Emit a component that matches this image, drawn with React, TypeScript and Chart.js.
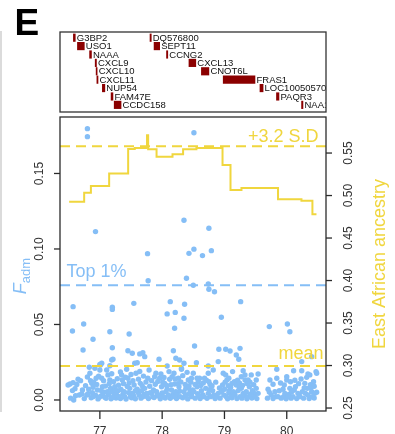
import React, { useEffect, useRef } from "react";
import { Chart, registerables } from "chart.js";

Chart.register(...registerables);

// ---- axis ranges and ticks ----
const X_MIN = 76.36;
const X_MAX = 80.63;
const FADM_MIN = -0.0073;
const FADM_MAX = 0.1874;
const ANC_MIN = 0.2465;
const ANC_MAX = 0.5924;

const xTicks = [77, 78, 79, 80];
const fadmTicks = [0, 0.05, 0.1, 0.15];
const ancestryTicks = [0.25, 0.3, 0.35, 0.4, 0.45, 0.5, 0.55];

// ---- gene track (position in Mb, row from the top) ----
const geneNames = [
  "G3BP2", "USO1", "NAAA", "CXCL9", "CXCL10", "CXCL11", "NUP54", "FAM47E", "CCDC158",
  "DQ576800", "SEPT11", "CCNG2", "CXCL13", "CNOT6L", "FRAS1", "LOC100505702", "PAQR3", "NAA11",
];
const geneStarts = [
  76.575, 76.64, 76.835, 76.925, 76.94, 76.952, 77.04, 77.18, 77.23,
  77.805, 77.87, 78.07, 78.43, 78.63, 78.98, 79.57, 79.835, 80.238,
];
const geneEnds = [
  76.605, 76.75, 76.865, 76.945, 76.956, 76.97, 77.08, 77.21, 77.34,
  77.825, 77.96, 78.09, 78.54, 78.75, 79.49, 79.62, 79.875, 80.26,
];
const geneRows = [1, 2, 3, 4, 5, 6, 7, 8, 9, 1, 2, 3, 4, 5, 6, 7, 8, 9];

// ---- Fadm per SNP: [position Mb, Fadm] ----
const fadmHigh: [number, number][] = [
  [76.8, 0.1797], [76.8, 0.1744], [78.51, 0.177],
  [76.93, 0.1115], [78.35, 0.119], [78.75, 0.1137],
  [77.765, 0.0969], [78.43, 0.0971], [78.51, 0.0999], [78.647, 0.0956], [78.79, 0.0989],
  [77.775, 0.079], [78.39, 0.0806], [78.5, 0.076], [78.74, 0.0768], [78.75, 0.0733], [78.84, 0.0717],
];
const fadmMid: [number, number][] = [
  [76.57, 0.0618], [77.2, 0.0614], [77.2, 0.06], [77.545, 0.064], [78.13, 0.0651], [78.08, 0.057],
  [78.21, 0.058], [78.36, 0.0634], [78.35, 0.0541], [78.2, 0.0475], [79.26, 0.0651], [78.95, 0.0548],
  [76.56, 0.0457], [76.74, 0.0503], [77.16, 0.0452], [77.47, 0.0437], [76.89, 0.0402],
  [79.72, 0.0486], [80.01, 0.0503], [80.05, 0.0452],
  [77.2, 0.0346], [76.73, 0.0331], [77.45, 0.0326], [77.52, 0.0309], [77.64, 0.0305], [77.69, 0.0313],
  [77.72, 0.0287], [78.18, 0.0326], [78.22, 0.0276], [77.95, 0.027], [77.19, 0.0265], [77.21, 0.027],
  [78.52, 0.0357], [78.91, 0.0336], [79.02, 0.0336], [79.09, 0.0324], [79.25, 0.0342], [79.19, 0.0298],
  [79.23, 0.027], [78.9, 0.0254], [78.55, 0.0247], [80.24, 0.0254], [80.4, 0.0287],
  [77.03, 0.0243], [77.56, 0.0243], [78.35, 0.0243], [78.08, 0.0225], [77.0, 0.0236], [77.16, 0.0227],
  [77.6, 0.0247], [78.28, 0.0265], [78.31, 0.021], [78.74, 0.0225],
  [79.84, 0.0203], [80.11, 0.0194], [80.24, 0.0194], [80.47, 0.0188], [80.34, 0.0172], [79.54, 0.0172],
  [79.3, 0.0194], [79.33, 0.0166], [79.02, 0.0166], [78.6, 0.0144], [78.56, 0.0144], [78.75, 0.0121],
];
const fadmBandWest: [number, number][] = [
  [76.49, 0.0099], [76.52, 0.0106], [76.57, 0.0115], [76.56, 0.0062], [76.58, 0.0], [76.65, 0.0137],
  [76.67, 0.0033], [76.71, 0.004], [76.79, 0.0033], [76.83, 0.0217], [76.84, 0.0177], [76.85, 0.0128],
  [76.87, 0.011], [76.89, 0.0084], [76.88, 0.0048], [76.89, 0.0022], [76.92, 0.021], [76.94, 0.0144],
  [76.96, 0.0066], [76.99, 0.0018], [77.0, 0.0199], [77.01, 0.0232], [77.03, 0.0144], [77.04, 0.0088],
  [77.05, 0.0044], [77.08, 0.0018], [77.11, 0.0199], [77.13, 0.0166], [77.16, 0.0132], [77.17, 0.0077],
  [77.2, 0.0055], [77.21, 0.0018], [77.24, 0.0088], [77.27, 0.0033], [77.31, 0.0022], [77.35, 0.0166],
  [77.36, 0.0132], [77.39, 0.0055], [77.4, 0.0022], [77.43, 0.0203], [77.45, 0.0144], [77.48, 0.0077],
  [77.49, 0.0022], [77.52, 0.0044], [77.55, 0.0099], [77.58, 0.0177], [77.6, 0.0071], [77.63, 0.0033],
  [77.65, 0.011], [77.67, 0.0062], [77.69, 0.0022], [77.72, 0.0077], [77.75, 0.0044], [77.76, 0.0022],
  [77.77, 0.0144], [77.79, 0.0199], [77.81, 0.0048], [77.85, 0.0022], [77.88, 0.0154], [77.9, 0.0177],
  [77.91, 0.0055], [77.94, 0.0033], [77.96, 0.0144], [77.99, 0.0088], [78.02, 0.0022], [78.04, 0.011],
  [78.06, 0.0055], [78.1, 0.0033], [78.12, 0.0137], [78.15, 0.0066], [78.17, 0.0022], [78.19, 0.0177],
  [78.2, 0.0106], [78.22, 0.0055], [78.24, 0.0033], [78.26, 0.0144], [78.27, 0.0088], [78.29, 0.0022],
  [78.31, 0.0203], [78.35, 0.0055], [78.38, 0.0077], [78.39, 0.0033], [78.42, 0.0132], [78.44, 0.0044],
  [78.47, 0.0022], [78.5, 0.0177], [78.47, 0.0144],
  [76.6, 0.0075], [76.63, 0.0102], [76.69, 0.0128], [76.72, 0.0066], [76.77, 0.0095], [76.8, 0.0152],
  [76.82, 0.0071], [76.9, 0.0118], [76.95, 0.0102], [76.98, 0.0158], [77.02, 0.0063], [77.06, 0.0127],
  [77.09, 0.0092], [77.12, 0.0054], [77.15, 0.0108], [77.19, 0.0174], [77.22, 0.0121], [77.25, 0.0062],
  [77.28, 0.0141], [77.3, 0.0098], [77.33, 0.0186], [77.34, 0.0069], [77.38, 0.0108], [77.41, 0.0151],
  [77.44, 0.0089], [77.47, 0.0112], [77.5, 0.0169], [77.53, 0.0128], [77.57, 0.0062], [77.62, 0.0138],
  [77.64, 0.0189], [77.68, 0.0094], [77.7, 0.0158], [77.74, 0.0119], [77.8, 0.0091], [77.83, 0.0128],
  [77.86, 0.0067], [77.89, 0.0104], [77.93, 0.0122], [77.98, 0.0172], [78.01, 0.0118], [78.03, 0.0149],
  [78.07, 0.0096], [78.11, 0.0188], [78.14, 0.0101], [78.16, 0.0154], [78.21, 0.0139], [78.25, 0.0108],
  [78.3, 0.0119], [78.33, 0.0161], [78.37, 0.0102], [78.4, 0.0183], [78.43, 0.0091], [78.46, 0.0118],
  [78.49, 0.0066],
];
const fadmBandEast: [number, number][] = [
  [78.47, 0.0033], [78.51, 0.0055], [78.56, 0.0088], [78.59, 0.0026], [78.63, 0.0062], [78.67, 0.0022],
  [78.7, 0.0077], [78.74, 0.0044], [78.78, 0.0022], [78.81, 0.0062], [78.83, 0.0033], [78.87, 0.0022],
  [78.95, 0.0055], [78.97, 0.0099], [78.99, 0.0033], [79.0, 0.0071], [79.03, 0.0022], [79.04, 0.0132],
  [79.07, 0.0048], [79.1, 0.0084], [79.11, 0.0026], [79.14, 0.0055], [79.17, 0.0033], [79.19, 0.0099],
  [79.22, 0.0062], [79.25, 0.0022], [79.27, 0.0077], [79.3, 0.0044], [79.33, 0.0132], [79.35, 0.0055],
  [79.38, 0.0022], [79.4, 0.0088], [79.42, 0.004], [79.45, 0.0062], [79.49, 0.0022], [79.51, 0.0077],
  [79.54, 0.0044], [79.7, 0.0071], [79.73, 0.0132], [79.75, 0.0033], [79.81, 0.0055], [79.82, 0.0022],
  [79.84, 0.0144], [79.86, 0.0022], [79.94, 0.0071], [79.97, 0.0044], [80.0, 0.0132], [80.0, 0.0154],
  [80.02, 0.0022], [80.05, 0.0077], [80.08, 0.0055], [80.1, 0.0022], [80.14, 0.0088], [80.18, 0.0044],
  [80.21, 0.0022], [80.25, 0.0055], [80.29, 0.011], [80.32, 0.015], [80.33, 0.0077], [80.34, 0.0033],
  [80.37, 0.0166], [80.4, 0.0055], [80.41, 0.0022], [80.43, 0.0121], [80.45, 0.0044], [80.48, 0.0177],
  [78.74, 0.0177], [78.82, 0.0199], [78.68, 0.0144], [78.98, 0.0177], [79.07, 0.0144], [79.13, 0.0188],
  [79.27, 0.0154], [79.38, 0.0132], [79.43, 0.0166], [79.51, 0.0132],
  [78.53, 0.0103], [78.58, 0.0121], [78.62, 0.0096], [78.66, 0.0112], [78.71, 0.0131], [78.77, 0.0102],
  [78.8, 0.0093], [78.86, 0.0118], [78.92, 0.0079], [79.01, 0.0118], [79.06, 0.0094], [79.12, 0.0109],
  [79.16, 0.0121], [79.21, 0.0131], [79.24, 0.0112], [79.29, 0.0096], [79.36, 0.0109], [79.41, 0.0118],
  [79.47, 0.0101], [79.78, 0.0104], [79.9, 0.0112], [79.96, 0.0099], [80.06, 0.0121], [80.13, 0.0131],
  [80.19, 0.0108], [80.23, 0.0139], [80.28, 0.0079], [80.38, 0.0101], [80.44, 0.0091],
];
const fadmBaseline: [number, number][] = [
  [76.53, 0.0012], [76.61, 0.0028], [76.75, 0.0009], [76.81, 0.0041], [76.86, 0.0015], [76.93, 0.0031],
  [76.97, 0.0007], [77.02, 0.0026], [77.07, 0.0052], [77.1, 0.0011], [77.14, 0.0035], [77.18, 0.0008],
  [77.23, 0.0042], [77.26, 0.0013], [77.29, 0.0061], [77.33, 0.0009], [77.37, 0.0038], [77.42, 0.0006],
  [77.46, 0.0049], [77.51, 0.0014], [77.54, 0.0029], [77.57, 0.0008], [77.61, 0.0051], [77.66, 0.0012],
  [77.71, 0.0036], [77.78, 0.0009], [77.83, 0.0044], [77.87, 0.0016], [77.92, 0.0027], [77.97, 0.0008],
  [78.0, 0.0047], [78.05, 0.0013], [78.08, 0.0071], [78.13, 0.0011], [78.18, 0.0039], [78.23, 0.0009],
  [78.28, 0.0058], [78.33, 0.0014], [78.37, 0.0028], [78.41, 0.0007], [78.45, 0.0063], [78.53, 0.0012],
  [78.57, 0.0041], [78.61, 0.0009], [78.65, 0.0035], [78.72, 0.0011], [78.76, 0.0068], [78.85, 0.0009],
  [78.9, 0.0044], [78.93, 0.0012], [79.05, 0.0008], [79.08, 0.0063], [79.12, 0.0014], [79.16, 0.0047],
  [79.2, 0.0009], [79.24, 0.0084], [79.28, 0.0012], [79.32, 0.0031], [79.36, 0.0008], [79.44, 0.0013],
  [79.47, 0.0047], [79.52, 0.0009], [79.69, 0.0012], [79.72, 0.0052], [79.78, 0.0009], [79.88, 0.0061],
  [79.91, 0.0012], [79.95, 0.0021], [79.99, 0.0008], [80.04, 0.0039], [80.07, 0.0012], [80.12, 0.0066],
  [80.16, 0.0009], [80.2, 0.0031], [80.27, 0.0012], [80.3, 0.0044], [80.36, 0.0009], [80.39, 0.0081],
  [80.44, 0.0013], [80.48, 0.0051],
];

// ---- East African ancestry in sliding windows (step starts, Mb) ----
const ancestryPositions = [
  76.507, 76.748, 76.856, 77.149, 77.454, 77.56, 77.74, 77.757, 77.775, 77.91,
  78.166, 78.336, 78.55, 78.969, 79.097, 79.273, 79.86, 80.236, 80.412, 80.477,
];
const ancestryValues = [
  0.4927, 0.5033, 0.5112, 0.526, 0.5547, 0.556, 0.5565, 0.571, 0.5545, 0.5457,
  0.5485, 0.5545, 0.556, 0.536, 0.5065, 0.509, 0.4955, 0.494, 0.478, 0.478,
];

// ---- reference lines ----
const ancestrySdThreshold = 0.558; // +3.2 S.D
const fadmTop1 = 0.076; // top 1% of Fadm
const ancestryMean = 0.2995;

const BLUE = "rgb(133,190,246)";
const YELLOW = "rgb(240,214,62)";
const GENE_RED = "#8b0000";
const FONT = '"Liberation Sans", Arial, Helvetica, sans-serif';

const W = 395;
const H = 434;
const PLOT_LEFT = 60;
const PLOT_RIGHT = 326;

const genePlugin = {
  id: "geneTrack",
  afterDatasetsDraw(chart: any) {
    const { ctx, chartArea: ca, scales } = chart;
    const xs = scales.x;
    const ys = scales.y;
    ctx.save();
    // panel letter
    ctx.fillStyle = "#000";
    ctx.font = `bold 37px ${FONT}`;
    ctx.textAlign = "left";
    ctx.textBaseline = "alphabetic";
    ctx.fillText("E", 14.5, 35);
    // gene labels, clipped to the track
    ctx.beginPath();
    ctx.rect(ca.left, ca.top, ca.right - ca.left, ca.bottom - ca.top);
    ctx.clip();
    ctx.fillStyle = "#111";
    ctx.font = `9.5px ${FONT}`;
    ctx.textBaseline = "middle";
    geneNames.forEach((name, i) => {
      const px = xs.getPixelForValue(geneEnds[i]) + 1.5;
      const py = ys.getPixelForValue(geneRows[i]) + 0.5;
      ctx.fillText(name, px, py);
    });
    ctx.restore();
    ctx.save();
    ctx.strokeStyle = "#333";
    ctx.lineWidth = 1.3;
    ctx.strokeRect(ca.left, ca.top, ca.right - ca.left, ca.bottom - ca.top);
    ctx.restore();
  },
};

const framePlugin = {
  id: "plotFrame",
  afterDraw(chart: any) {
    const { ctx, chartArea: ca, scales } = chart;
    const xs = scales.x;
    const yl = scales.y;
    const yr = scales.y2;
    ctx.save();

    // edge of the neighbouring panel
    ctx.strokeStyle = "#cfcfcf";
    ctx.lineWidth = 1.5;
    ctx.beginPath();
    ctx.moveTo(1, 31);
    ctx.lineTo(1, 412);
    ctx.stroke();

    // plot box
    ctx.strokeStyle = "#2b2b2b";
    ctx.lineWidth = 1.3;
    ctx.strokeRect(ca.left, ca.top, ca.right - ca.left, ca.bottom - ca.top);

    ctx.fillStyle = "#333";
    ctx.font = `12px ${FONT}`;

    // bottom axis
    ctx.textAlign = "center";
    ctx.textBaseline = "alphabetic";
    xTicks.forEach((v) => {
      const px = xs.getPixelForValue(v);
      ctx.beginPath();
      ctx.moveTo(px, ca.bottom);
      ctx.lineTo(px, ca.bottom + 8);
      ctx.stroke();
      ctx.fillText(String(v), px, 434.5);
    });

    // left axis (Fadm)
    fadmTicks.forEach((v) => {
      const py = yl.getPixelForValue(v);
      ctx.beginPath();
      ctx.moveTo(ca.left, py);
      ctx.lineTo(ca.left - 6, py);
      ctx.stroke();
      ctx.save();
      ctx.translate(43, py);
      ctx.rotate(-Math.PI / 2);
      ctx.fillText(v.toFixed(2), 0, 0);
      ctx.restore();
    });

    // right axis (ancestry)
    ancestryTicks.forEach((v) => {
      const py = yr.getPixelForValue(v);
      ctx.beginPath();
      ctx.moveTo(ca.right, py);
      ctx.lineTo(ca.right + 6, py);
      ctx.stroke();
      ctx.save();
      ctx.translate(352, py);
      ctx.rotate(-Math.PI / 2);
      ctx.fillText(v.toFixed(2), 0, 0);
      ctx.restore();
    });

    // right axis title
    ctx.save();
    ctx.fillStyle = YELLOW;
    ctx.font = `18px ${FONT}`;
    ctx.translate(384.5, (ca.top + ca.bottom) / 2);
    ctx.rotate(-Math.PI / 2);
    ctx.fillText("East African ancestry", 0, 0);
    ctx.restore();

    // left axis title: F with subscript adm
    ctx.save();
    ctx.fillStyle = BLUE;
    ctx.translate(26, 276);
    ctx.rotate(-Math.PI / 2);
    ctx.textAlign = "left";
    ctx.font = `italic 18px ${FONT}`;
    const wF = ctx.measureText("F").width;
    ctx.font = `13px ${FONT}`;
    const wSub = ctx.measureText("adm").width;
    const start = -(wF + wSub) / 2;
    ctx.font = `italic 18px ${FONT}`;
    ctx.fillText("F", start, 0);
    ctx.font = `13px ${FONT}`;
    ctx.fillText("adm", start + wF, 4);
    ctx.restore();

    // reference line labels
    ctx.font = `18px ${FONT}`;
    ctx.textBaseline = "alphabetic";
    ctx.fillStyle = YELLOW;
    ctx.textAlign = "right";
    ctx.fillText("+3.2 S.D", 318.5, 142);
    ctx.fillText("mean", 323.5, 358.5);
    ctx.fillStyle = BLUE;
    ctx.textAlign = "left";
    ctx.fillText("Top 1%", 66.5, 277);

    ctx.restore();
  },
};

function hLine(value: number) {
  return [
    { x: X_MIN, y: value },
    { x: X_MAX, y: value },
  ];
}

export default function App() {
  const geneRef = useRef<HTMLCanvasElement | null>(null);
  const mainRef = useRef<HTMLCanvasElement | null>(null);

  useEffect(() => {
    if (!geneRef.current || !mainRef.current) return;

    const geneChart = new Chart(geneRef.current, {
      type: "bar",
      data: {
        datasets: [
          {
            data: geneNames.map((_, i) => ({ x: [geneStarts[i], geneEnds[i]], y: geneRows[i] })) as any,
            backgroundColor: GENE_RED,
            borderWidth: 0,
            barThickness: 7.5,
          } as any,
        ],
      },
      options: {
        indexAxis: "y",
        responsive: false,
        animation: false,
        layout: { padding: { left: PLOT_LEFT, right: W - PLOT_RIGHT, top: 32, bottom: 8 } },
        scales: {
          x: { type: "linear", min: X_MIN, max: X_MAX, display: false },
          y: { type: "linear", min: 0.32, max: 9.85, reverse: true, offset: false, display: false },
        },
        plugins: { legend: { display: false }, tooltip: { enabled: false } },
      } as any,
      plugins: [genePlugin],
    });

    const fadmPoints = [...fadmBaseline, ...fadmBandWest, ...fadmBandEast, ...fadmMid, ...fadmHigh].map(
      ([pos, f]) => ({ x: pos, y: f })
    );
    const ancestryLine = ancestryPositions.map((pos, i) => ({ x: pos, y: ancestryValues[i] }));

    const dashed = {
      type: "line" as const,
      borderWidth: 2,
      borderDash: [10, 6],
      pointRadius: 0,
      fill: false,
      showLine: true,
      order: 1,
    };

    const mainChart = new Chart(mainRef.current, {
      type: "scatter",
      data: {
        datasets: [
          {
            label: "Fadm",
            data: fadmPoints,
            yAxisID: "y",
            backgroundColor: BLUE,
            borderWidth: 0,
            pointRadius: 2.7,
            order: 5,
          },
          {
            label: "East African ancestry",
            type: "line",
            data: ancestryLine,
            yAxisID: "y2",
            stepped: "before",
            borderColor: YELLOW,
            borderWidth: 2,
            pointRadius: 0,
            fill: false,
            showLine: true,
            order: 2,
          } as any,
          { ...dashed, label: "+3.2 S.D", data: hLine(ancestrySdThreshold), yAxisID: "y2", borderColor: YELLOW } as any,
          { ...dashed, label: "Top 1%", data: hLine(fadmTop1), yAxisID: "y", borderColor: BLUE } as any,
          { ...dashed, label: "mean", data: hLine(ancestryMean), yAxisID: "y2", borderColor: YELLOW } as any,
        ],
      },
      options: {
        responsive: false,
        animation: false,
        layout: { padding: { left: PLOT_LEFT, right: W - PLOT_RIGHT, top: 117, bottom: H - 411 } },
        scales: {
          x: { type: "linear", min: X_MIN, max: X_MAX, display: false },
          y: { type: "linear", min: FADM_MIN, max: FADM_MAX, display: false },
          y2: { type: "linear", position: "right", min: ANC_MIN, max: ANC_MAX, display: false },
        },
        plugins: { legend: { display: false }, tooltip: { enabled: false } },
      } as any,
      plugins: [framePlugin],
    });

    return () => {
      geneChart.destroy();
      mainChart.destroy();
    };
  }, []);

  return (
    <div style={{ position: "absolute", left: 0, top: 0, width: W, height: H, background: "#fff", overflow: "hidden" }}>
      <canvas ref={mainRef} width={W} height={H} style={{ position: "absolute", left: 0, top: 0 }} />
      <canvas ref={geneRef} width={W} height={120} style={{ position: "absolute", left: 0, top: 0 }} />
    </div>
  );
}
